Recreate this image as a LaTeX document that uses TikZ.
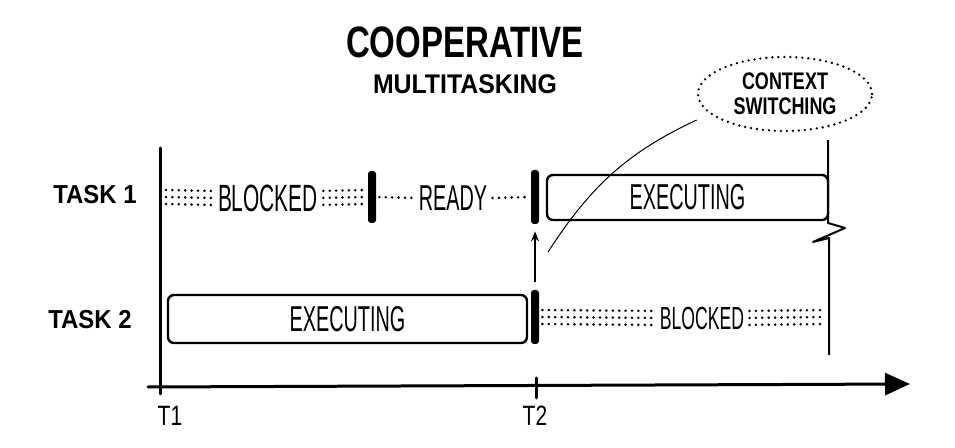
\documentclass[tikz,border=0pt]{standalone}
\usepackage{fontspec}
\setmainfont{Liberation Sans}
\newfontfamily\handfont[FakeStretch=0.75]{Liberation Sans}
\newfontfamily\narrowhand[FakeStretch=0.55]{Liberation Sans}
\newfontfamily\widehand[FakeStretch=0.92]{Liberation Sans}
\usetikzlibrary{arrows.meta, positioning, shapes.geometric}

\begin{document}
\begin{tikzpicture}[
    x=0.5pt, y=-0.5pt,
    every node/.style={inner sep=1pt},
    ttl/.style={font=\handfont\bfseries\fontsize{22}{24}\selectfont},
    sub/.style={font=\widehand\bfseries\fontsize{13.5}{15}\selectfont},
    tsk/.style={font=\widehand\bfseries\fontsize{13}{15}\selectfont},
    st/.style={font=\narrowhand\fontsize{18}{20}\selectfont},
    run/.style={rectangle, rounded corners=3pt, draw=black, line width=1.2pt,
        inner sep=0pt, font=\narrowhand\fontsize{18}{20}\selectfont},
    bar/.style={rectangle, rounded corners=1.5pt, fill=black,
        inner sep=0pt, minimum width=4pt},
    tick/.style={font=\handfont\fontsize{14}{16}\selectfont},
    bub/.style={ellipse, draw=black, line width=1.3pt,
        dash pattern=on 0pt off 3pt, line cap=round, inner sep=0pt,
        minimum width=87pt, minimum height=37pt, align=center,
        font=\handfont\bfseries\fontsize{12}{12.5}\selectfont},
    dots/.style={line width=1.4pt, dash pattern=on 0pt off 3.2pt,
        line cap=round, shorten <=1.5pt, shorten >=1.5pt},
    axis/.style={line width=1.5pt, line cap=round},
    te/.style={line width=0.5pt},
]
\useasboundingbox (0,0) rectangle (955,448);

% ===== title =====
\node[ttl] (title)    at (465,42) {COOPERATIVE};
\node[sub] (subtitle) at (465,84) {MULTITASKING};

% ===== row labels =====
\node[tsk] (task1) at (95,195) {TASK 1};
\node[tsk] (task2) at (90,320) {TASK 2};

% ===== axes =====
\draw[axis] (160,148) -- (160,394);
\draw[axis, -{Triangle[length=12.5pt,width=11pt]}] (148,387) -- (910,384);
\draw[axis] (536,378) -- (536,398);
\node[tick] (t1) at (170,416) {T1};
\node[tick] (t2) at (535,416) {T2};

% end of the time window, with a break
\draw[line width=1pt, line join=round]
    (828,140) -- (828,223) -- (845,228) -- (813,242) -- (829,238) -- (829,355);

% ===== task 1 =====
\coordinate (s1) at (163,197);
\node[st, font=\narrowhand\fontsize{19}{21}\selectfont] (blk1) at (268,198) {BLOCKED};
\node[bar, minimum height=26pt] (b1) at (372,197) {};
\node[st] (rdy) at (453,198) {READY};
\node[bar, minimum height=27pt] (b2) at (535,197) {};
\node[run, minimum width=140.5pt, minimum height=22.5pt] (run1) at (687.5,197.5) {EXECUTING};

% ===== task 2 =====
\node[run, minimum width=179.5pt, minimum height=24pt] (run2) at (347.5,319) {EXECUTING};
\node[bar, minimum height=27pt] (b3) at (535,317) {};
\node[st, font=\narrowhand\fontsize{16}{18}\selectfont] (blk2) at (702,318) {BLOCKED};
\coordinate (e2) at (824,317);

% dotted fill for blocked / ready
\foreach \dy in {-3.5pt,0pt,3.5pt} {
    \draw[dots] ([yshift=\dy]s1) -- ([yshift=\dy]blk1.west);
    \draw[dots] ([yshift=\dy]blk1.east) -- ([yshift=\dy]b1.west);
    \draw[dots] ([yshift=\dy]b3.east) -- ([yshift=\dy]blk2.west);
    \draw[dots] ([yshift=\dy]blk2.east) -- ([yshift=\dy]e2);
}
\draw[dots] (b1.east) -- (rdy.west);
\draw[dots] (rdy.east) -- (b2.west);

% ===== context switch =====
\draw[line width=0.8pt, -{Stealth[length=5pt,width=4pt]},
    shorten <=4pt, shorten >=3.5pt] (b3.north) -- (b2.south);

\node[bub] (ctx) at (785,94) {CONTEXT\\SWITCHING};
\coordinate (cs) at (548,252);
\draw[te] (cs) to[out=57,in=205] ([yshift=-13pt]ctx.west);

\end{tikzpicture}
\end{document}
